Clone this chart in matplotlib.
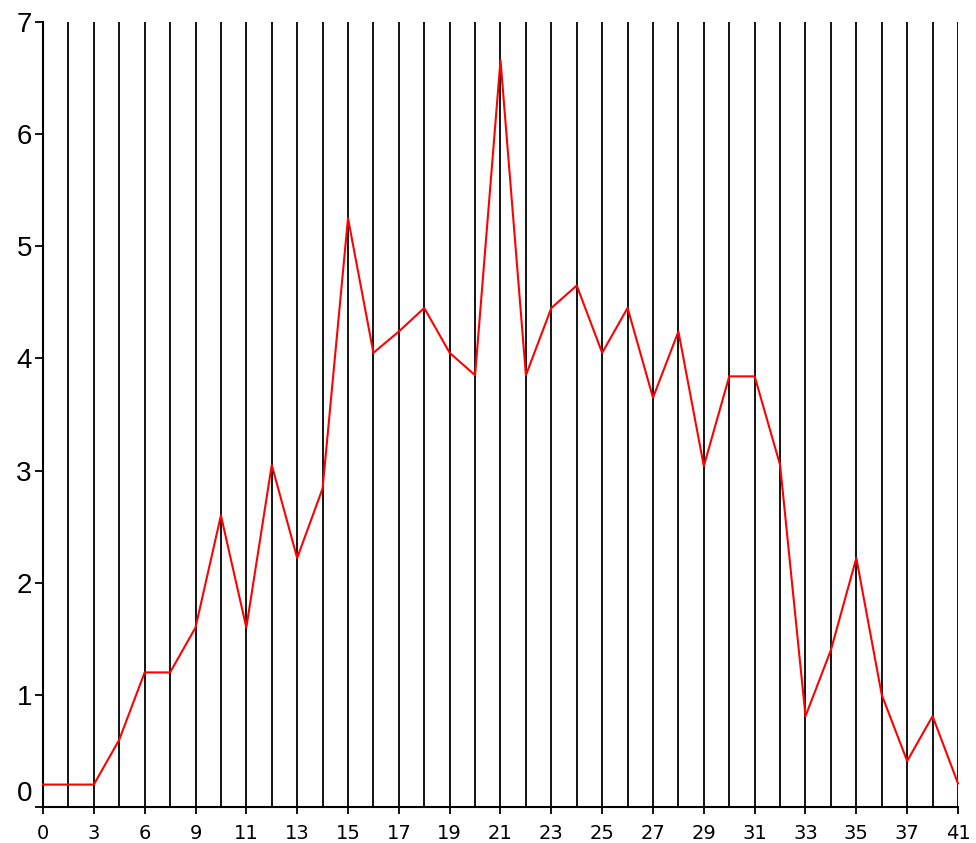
import matplotlib
matplotlib.use('Agg')
import matplotlib.pyplot as plt

# one value per vertical grid line, left to right
values = [0.2, 0.2, 0.2, 0.6, 1.2, 1.2, 1.6, 2.6, 1.6, 3.05, 2.22, 2.84,
          5.25, 4.05, 4.24, 4.45, 4.05, 3.85, 6.66, 3.85, 4.45, 4.65,
          4.05, 4.45, 3.65, 4.24, 3.04, 3.84, 3.84, 3.05, 0.81, 1.4,
          2.22, 1.0, 0.41, 0.81, 0.21]
# labels shown on every second category
x_labels = ['0', '3', '6', '9', '11', '13', '15', '17', '19', '21', '23',
            '25', '27', '29', '31', '33', '35', '37', '41']
y_ticks = [0, 1, 2, 3, 4, 5, 6, 7]

fig = plt.figure(figsize=(9.76, 8.43), dpi=100)
ax = fig.add_axes([43 / 976, 36 / 843, 915 / 976, 785 / 843])

positions = list(range(len(values)))
for p in positions[1:]:
    ax.axvline(p, color='black', lw=1.3, zorder=1)

ax.plot(positions, values, color='red', lw=1.5, zorder=3, clip_on=False)

ax.set_xlim(0, len(values) - 1)
ax.set_ylim(0, 7)

ax.set_xticks(positions[::2])
ax.set_xticklabels(x_labels, fontsize=14, family='DejaVu Sans')
ax.set_yticks(y_ticks)
ax.set_yticklabels([str(t) for t in y_ticks], fontsize=20, family='Liberation Sans')
ax.get_yticklabels()[0].set_verticalalignment('bottom')

ax.tick_params(axis='x', length=5, width=1.3, pad=7)
ax.tick_params(axis='y', length=6, width=1.3, pad=2)

for s in ['top', 'right']:
    ax.spines[s].set_visible(False)
for s in ['left', 'bottom']:
    ax.spines[s].set_linewidth(1.5)

fig.savefig('out.png', dpi=100)
